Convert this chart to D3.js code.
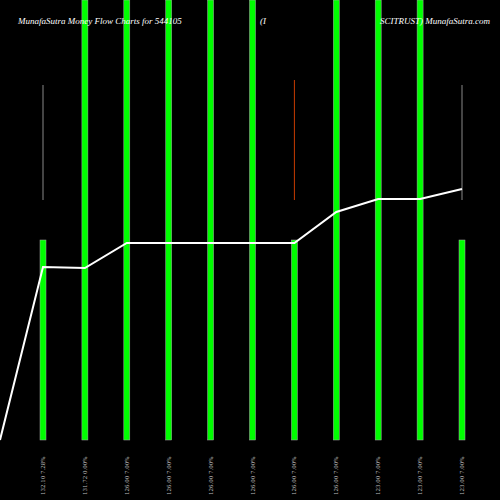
<!DOCTYPE html><html><head><script src="https://cdn.jsdelivr.net/npm/d3@7"></script>
<style>body{margin:0;background:#000}</style></head><body><script>
const labels=["132.10 7.28%","131.72 0.00%","126.00 7.00%","126.00 7.00%","126.00 7.00%","126.00 7.00%","126.00 7.00%","126.00 7.00%","123.00 7.00%","123.00 7.00%","123.00 7.00%"];
const barTop=[200,-40,-40,-40,-40,-40,200,-40,-40,-40,200];
const wickTop=[85,null,null,null,null,null,80,null,null,null,85];
const wickColor=["#888","","","","","","#c83c00","","","","#888"];
const lineVals=[267,268,243,243,243,243,243,212,199,199,189];
const startVal=440;
const W=500,H=500;
const svg=d3.select("body").append("svg").attr("width",W).attr("height",H).style("background","#000");
const x=d3.scalePoint().domain(d3.range(11)).range([43,462]);
const y=d3.scaleLinear().domain([0,440]).range([0,440]);
svg.selectAll(".w").data(wickTop.map((v,i)=>[v,i]).filter(d=>d[0]!=null)).enter().append("line")
 .attr("x1",d=>x(d[1])).attr("x2",d=>x(d[1])).attr("y1",d=>y(d[0])).attr("y2",d=>y(barTop[d[1]])).attr("stroke",d=>wickColor[d[1]]).attr("stroke-width",1);
svg.selectAll(".b").data(barTop).enter().append("rect")
 .attr("x",(d,i)=>x(i)-3).attr("width",6).attr("y",d=>y(Math.max(0,d+40))).attr("height",d=>y(440)-y(Math.max(0,d+40)))
 .attr("fill","#00ff00").attr("stroke","#aaa").attr("stroke-width",0.5);
const pts=[[0,startVal]].concat(lineVals.map((v,i)=>[x(i),v]));
svg.append("path").attr("d",d3.line().x(d=>d[0]).y(d=>y(d[1]))(pts)).attr("fill","none").attr("stroke","#fff").attr("stroke-width",2);
labels.forEach((l,i)=>{svg.append("text").attr("transform",`translate(${x(i)+2},495) rotate(-90)`).attr("fill","#bbb").attr("font-size",5.5).attr("font-family","DejaVu Serif").text(l);});
const t=svg.append("g").attr("font-family","Liberation Serif").attr("font-style","italic").attr("font-size",9).attr("fill","#fff");
t.append("text").attr("x",18).attr("y",24).text("MunafaSutra  Money Flow  Charts for 544105");
t.append("text").attr("x",260).attr("y",24).text("(I");
t.append("text").attr("x",380).attr("y",24).text("SCITRUST) MunafaSutra.com");
</script></body></html>
